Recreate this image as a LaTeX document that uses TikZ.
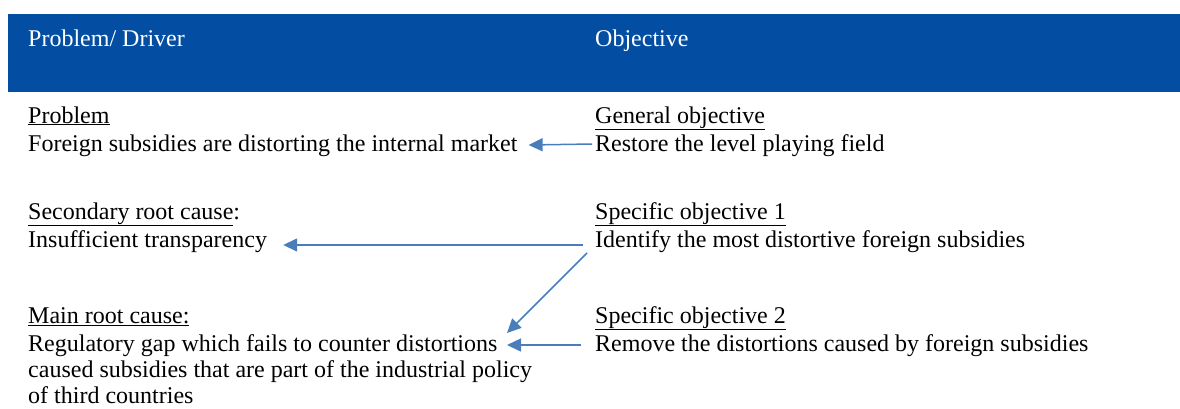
\documentclass[tikz,border=0pt]{standalone}
\usepackage{fontspec}
\setmainfont{Liberation Serif}
\usetikzlibrary{arrows.meta}
\definecolor{hdrblue}{HTML}{034EA2}
\definecolor{arrblue}{HTML}{4A7EBB}
\tikzset{
  txt/.style={anchor=base west, inner sep=0pt, font=\fontsize{24}{26}\selectfont, text=black},
  hdr/.style={txt, text=white},
  arr/.style={draw=arrblue, line width=1.5pt, -{Triangle[length=14pt,width=13pt]}},
}
\begin{document}
\begin{tikzpicture}[x=1pt,y=-1pt]
\useasboundingbox (0,0) rectangle (1180,408);
\fill[hdrblue] (8,14) rectangle (1180,92);
\node[hdr] (h1) at (28,46) {Problem/ Driver};
\node[hdr] (h2) at (595,46) {Objective};

\node[txt] (probH) at (28,123) {\underline{Problem}};
\node[txt] (probT) at (28,151) {Foreign subsidies are distorting the internal market};
\node[txt] (genH) at (595,123) {\underline{General objective}};
\node[txt] (genT) at (595,151) {Restore the level playing field};

\node[txt] (secH) at (28,219) {\underline{Secondary root cause}:};
\node[txt] (secT) at (28,247) {Insufficient transparency};
\node[txt] (so1H) at (595,219) {\underline{Specific objective 1}};
\node[txt] (so1T) at (595,247) {Identify the most distortive foreign subsidies};

\node[txt] (mainH) at (28,323) {\underline{Main root cause:}};
\node[txt, anchor=north west, align=left] (mainT) at (28,334) {Regulatory gap which fails to counter distortions\\caused subsidies that are part of the industrial policy\\of third countries};
\node[txt] (so2H) at (595,323) {\underline{Specific objective 2}};
\node[txt] (so2T) at (595,351) {Remove the distortions caused by foreign subsidies};

\coordinate (mainIn1) at ([shift={(479,-1)}]mainT.north west);
\coordinate (mainIn2) at ([shift={(479,11)}]mainT.north west);

\draw[arr] ([shift={(-3,-7)}]genT.base west) -- ([shift={(11,-6)}]probT.base east);
\draw[arr] ([shift={(-12,-2)}]so1T.base west) -- ([shift={(16,-2)}]secT.base east);
\draw[arr] ([shift={(-8,6)}]so1T.base west) -- (mainIn1);
\draw[arr] ([shift={(-14,-6)}]so2T.base west) -- (mainIn2);
\end{tikzpicture}
\end{document}
